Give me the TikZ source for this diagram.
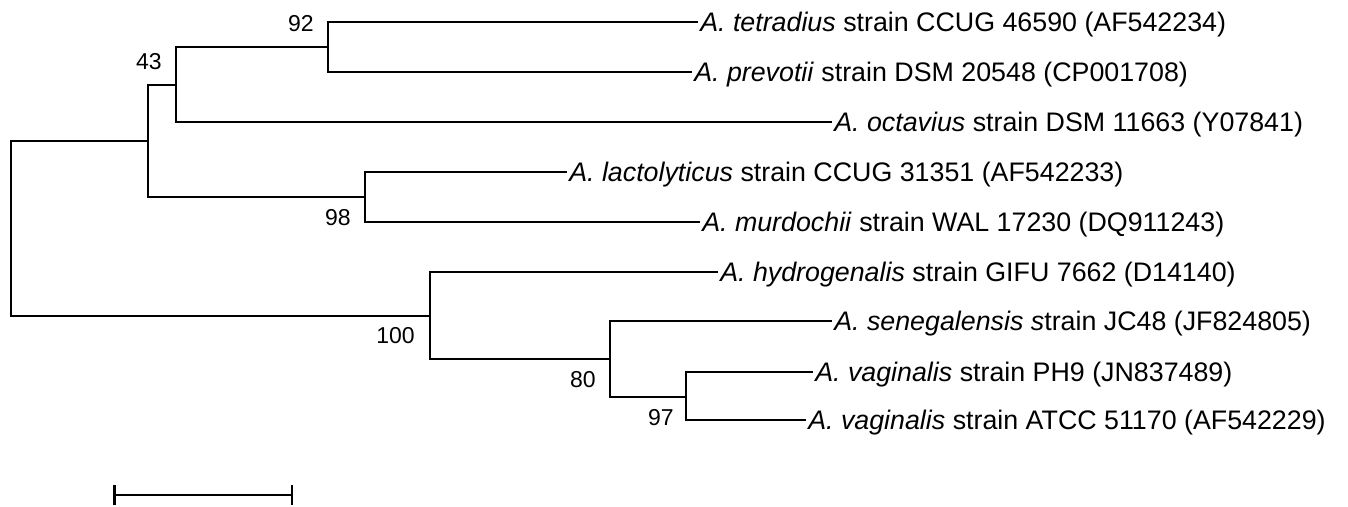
\documentclass[tikz,border=0pt]{standalone}
\usepackage{fontspec}
\setmainfont{Liberation Sans}
\usetikzlibrary{positioning,arrows.meta}

\begin{document}
\begin{tikzpicture}[x=0.5pt, y=-0.5pt, line width=1.25pt,
    taxon/.style={anchor=west, inner xsep=0.5pt, inner ysep=0pt, text height=9.7pt, text depth=0pt, font=\fontsize{13.4}{16}\selectfont},
    boot/.style={inner sep=0pt, text height=8.2pt, text depth=0pt, font=\fontsize{11.5}{13}\selectfont}]
        \useasboundingbox (0,0) rectangle (1348,507);

        % Internal nodes of the tree
        \coordinate (root) at (11,228);
        \coordinate (nA) at (148,141);
        \coordinate (n43) at (176,85);
        \coordinate (n92) at (328,47);
        \coordinate (n98) at (365,197);
        \coordinate (n100) at (430,316);
        \coordinate (n80) at (610,359);
        \coordinate (n97) at (686,397);

        % Leaves
        \node[taxon] (tetra) at (698,22) {\textit{A. tetradius} strain CCUG 46590 (AF542234)};
        \node[taxon] (prevo) at (692,72) {\textit{A. prevotii} strain DSM 20548 (CP001708)};
        \node[taxon] (octa) at (832,122) {\textit{A. octavius} strain DSM 11663 (Y07841)};
        \node[taxon] (lacto) at (567,172) {\textit{A. lactolyticus} strain CCUG 31351 (AF542233)};
        \node[taxon] (murdo) at (700,222) {\textit{A. murdochii} strain WAL 17230 (DQ911243)};
        \node[taxon] (hydro) at (718,272) {\textit{A. hydrogenalis} strain GIFU 7662 (D14140)};
        \node[taxon] (seneg) at (832,321) {\textit{A. senegalensis s}train JC48 (JF824805)};
        \node[taxon] (vagA) at (813,372) {\textit{A. vaginalis} strain PH9 (JN837489)};
        \node[taxon] (vagB) at (806,420) {\textit{A. vaginalis} strain ATCC 51170 (AF542229)};

        % Branches
        \draw (root) |- (nA);
        \draw (root) |- (n100);
        \draw (nA) |- (n43);
        \draw (nA) |- (n98);
        \draw (n43) |- (n92);
        \draw (n43) |- (octa.west);
        \draw (n92) |- (tetra.west);
        \draw (n92) |- (prevo.west);
        \draw (n98) |- (lacto.west);
        \draw (n98) |- (murdo.west);
        \draw (n100) |- (hydro.west);
        \draw (n100) |- (n80);
        \draw (n80) |- (seneg.west);
        \draw (n80) |- (n97);
        \draw (n97) |- (vagA.west);
        \draw (n97) |- (vagB.west);

        % Bootstrap values
        \node[boot, above left=7pt and 6.5pt of n92] (b92) {92};
        \node[boot, above left=7pt and 6.5pt of n43] (b43) {43};
        \node[boot, below left=5.5pt and 6.5pt of n98] (b98) {98};
        \node[boot, below left=5pt and 7pt of n100] (b100) {100};
        \node[boot, below left=5.5pt and 6.5pt of n80] (b80) {80};
        \node[boot, below left=5.5pt and 5.5pt of n97] (b97) {97};

        % Scale bar
        \coordinate (bar1) at (113,495);
        \coordinate (bar2) at (293,495);
        \draw[{Bar[width=10pt]}-{Bar[width=10pt]}] (bar1) -- (bar2);
\end{tikzpicture}
\end{document}
